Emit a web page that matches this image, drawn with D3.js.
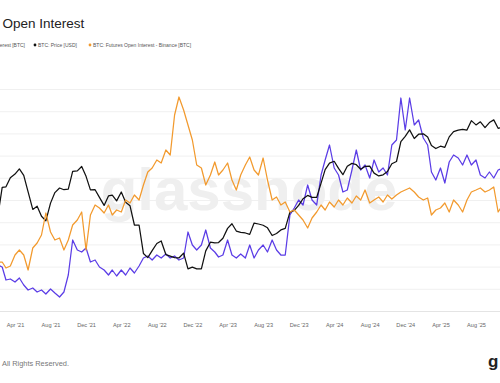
<!DOCTYPE html>
<html>
<head>
<meta charset="utf-8">
<script src="https://cdn.jsdelivr.net/npm/d3@7"></script>
<style>
  html, body { margin: 0; padding: 0; background: #fff; overflow: hidden; }
  svg { display: block; font-family: "Liberation Sans", Arial, sans-serif; }
</style>
</head>
<body>
<svg id="chart" width="500" height="383"></svg>
<script>
// ---- data (semi-monthly samples: 1st and 16th of each month, from Feb 2021) ----
const startYear = 2021, startMonth = 1; // Feb 2021
const dates = d3.range(115).map(i => new Date(startYear, startMonth + Math.floor(i / 2), i % 2 ? 16 : 1));

// BTC: Futures Open Interest [BTC] (purple)
const oiTotal = [
  292000,288000,262000,264000,258000,266000,252000,242000,246000,238000,
  242000,234000,244000,236000,228000,238000,272000,342000,322000,318000,
  326000,298000,302000,288000,282000,272000,282000,270000,282000,272000,
  286000,276000,290000,306000,310000,302000,312000,306000,314000,306000,
  310000,302000,306000,358000,332000,322000,332000,362000,326000,318000,
  308000,312000,342000,312000,306000,314000,306000,332000,306000,322000,
  332000,318000,342000,322000,312000,312000,392000,406000,422000,412000,
  452000,422000,412000,472000,502000,532000,486000,472000,438000,442000,
  482000,522000,482000,492000,466000,502000,478000,486000,472000,532000,
  542000,626000,562000,626000,572000,582000,546000,532000,478000,462000,
  486000,456000,498000,512000,506000,492000,512000,492000,502000,472000,
  466000,478000,466000,482000,486000
];

// BTC: Price [USD] (black)
const price = [
  33500,49200,49600,56000,58800,63000,57800,46400,36700,38300,
  33500,31500,39900,45900,48800,47700,48100,60900,61300,65000,
  57000,47600,47700,43100,38700,43900,44400,41100,46300,40400,
  38500,29800,29800,20400,19300,21200,23300,24100,20100,19700,
  19300,19200,20500,16600,17000,16600,16600,21100,23700,23500,
  23600,25000,28500,30300,27500,27000,26800,26300,30600,30200,
  29700,28700,25900,26600,27900,28500,35400,36200,38700,42300,
  44200,43100,43100,52100,62400,68000,69700,63400,58300,65200,
  67800,66600,62700,65100,65400,59500,57300,58200,60800,67400,
  69500,90600,97200,106000,94400,100000,100600,96200,86000,82600,
  85200,84000,96500,103600,105700,106800,105700,119800,113200,118000,
  109200,116800,121000,108200,110000
];

// BTC: Futures Open Interest - Binance [BTC] (orange)
const oiBinance = [
  34300,34300,30100,31500,39200,42700,39200,28700,44100,47600,
  53200,68600,55300,49700,51100,42700,49700,60200,63700,69300,
  42700,67200,74200,72100,68600,74200,67200,70700,69300,77700,
  75600,81200,77700,88200,97300,100100,105700,103600,112700,109200,
  137200,149800,140700,130200,119700,102200,100100,88200,95200,104300,
  95200,98700,103600,91700,84700,95200,102200,107800,98700,95200,
  107100,91700,77700,79800,74200,76300,69300,70700,67200,63700,
  58100,65100,69300,74200,70700,76300,72800,77700,74200,79100,
  75600,80500,77700,84700,75600,77700,79800,76300,81200,78400,
  81200,83300,84700,86100,83300,79800,77700,79100,67200,70700,
  72100,75600,69300,77700,74200,69300,77700,83300,84700,86100,
  83300,84700,86800,69300,74200
];

const tickDates = ["2021-04-01","2021-08-01","2021-12-01","2022-04-01","2022-08-01","2022-12-01",
  "2023-04-01","2023-08-01","2023-12-01","2024-04-01","2024-08-01","2024-12-01","2025-04-01","2025-08-01"];

const seriesNames = ["BTC: Futures Open Interest [BTC]", "BTC: Price [USD]", "BTC: Futures Open Interest - Binance [BTC]"];
const colors = ["#5b3de6", "#111111", "#f29a2e"];

// ---- layout ----
const svg = d3.select("#chart");
const W = 500, H = 383;
const plotTop = 89.5, plotBottom = 311.5;

const x = d3.scaleTime()
  .domain([new Date(2021, 3, 1), new Date(2025, 7, 1)])
  .range([15, 476]);

const yPurple = d3.scaleLinear().domain([200000, 644000]).range([311, 89]);
const yPrice = d3.scaleLog().domain([9470, 182700]).range([311, 89]);
const yOrange = d3.scaleLinear().domain([0, 155400]).range([311, 89]);
const yGrid = d3.scaleLinear().domain([0, 10]).range([plotBottom, plotTop]);

// title
svg.append("text")
  .attr("x", 2.5).attr("y", 28)
  .attr("font-size", 13.5)
  .attr("fill", "#222")
  .text("Open Interest");

// legend
const legend = svg.append("g").attr("font-size", 5).attr("fill", "#555");
legend.append("circle").attr("cx", -100).attr("cy", 45).attr("r", 1.4).attr("fill", colors[0]);
legend.append("text").attr("x", 25).attr("y", 46.8).attr("text-anchor", "end").text(seriesNames[0]);
legend.append("circle").attr("cx", 35).attr("cy", 45).attr("r", 1.4).attr("fill", colors[1]);
legend.append("text").attr("x", 38).attr("y", 46.8).text(seriesNames[1]);
legend.append("circle").attr("cx", 90).attr("cy", 45).attr("r", 1.4).attr("fill", colors[2]);
legend.append("text").attr("x", 93).attr("y", 46.8).text(seriesNames[2]);

// grid
svg.append("g").selectAll("line")
  .data(yGrid.ticks(10))
  .join("line")
  .attr("x1", 0).attr("x2", W)
  .attr("y1", d => yGrid(d)).attr("y2", d => yGrid(d))
  .attr("stroke", d => d === 0 ? "#e4e4e4" : "#f0f0f0")
  .attr("stroke-width", 1);

// watermark
svg.append("text")
  .attr("x", 249).attr("y", 210)
  .attr("text-anchor", "middle")
  .attr("font-size", 60)
  .attr("font-weight", "bold")
  .attr("fill", "#efefef")
  .text("glassnode");

// lines
const clip = svg.append("defs").append("clipPath").attr("id", "plot");
clip.append("rect").attr("x", 0).attr("y", 80).attr("width", W).attr("height", 235);

const g = svg.append("g").attr("clip-path", "url(#plot)");
const series = [
  { vals: oiTotal, y: yPurple, color: colors[0] },
  { vals: price, y: yPrice, color: colors[1] },
  { vals: oiBinance, y: yOrange, color: colors[2] }
];
series.forEach(s => {
  const line = d3.line()
    .x((d, i) => x(dates[i]))
    .y(d => s.y(d));
  g.append("path")
    .datum(s.vals)
    .attr("d", line)
    .attr("fill", "none")
    .attr("stroke", s.color)
    .attr("stroke-width", 1.25)
    .attr("stroke-linejoin", "round");
});

// x axis
const parse = d3.timeParse("%Y-%m-%d");
const xAxis = d3.axisBottom(x)
  .tickValues(tickDates.map(parse))
  .tickFormat(d3.timeFormat("%b '%y"))
  .tickSize(0);
const ax = svg.append("g").attr("transform", `translate(0,${plotBottom + 9})`).call(xAxis);
ax.select(".domain").remove();
ax.selectAll("text").attr("font-size", 5.6).attr("fill", "#666").attr("font-family", "Liberation Sans, Arial, sans-serif");

// footer
svg.append("text")
  .attr("x", 2).attr("y", 365.5)
  .attr("font-size", 7.4)
  .attr("fill", "#777")
  .text("All Rights Reserved.");

svg.append("text")
  .attr("x", 488).attr("y", 367)
  .attr("font-size", 17)
  .attr("font-weight", "bold")
  .attr("fill", "#222")
  .text("g");
</script>
</body>
</html>
